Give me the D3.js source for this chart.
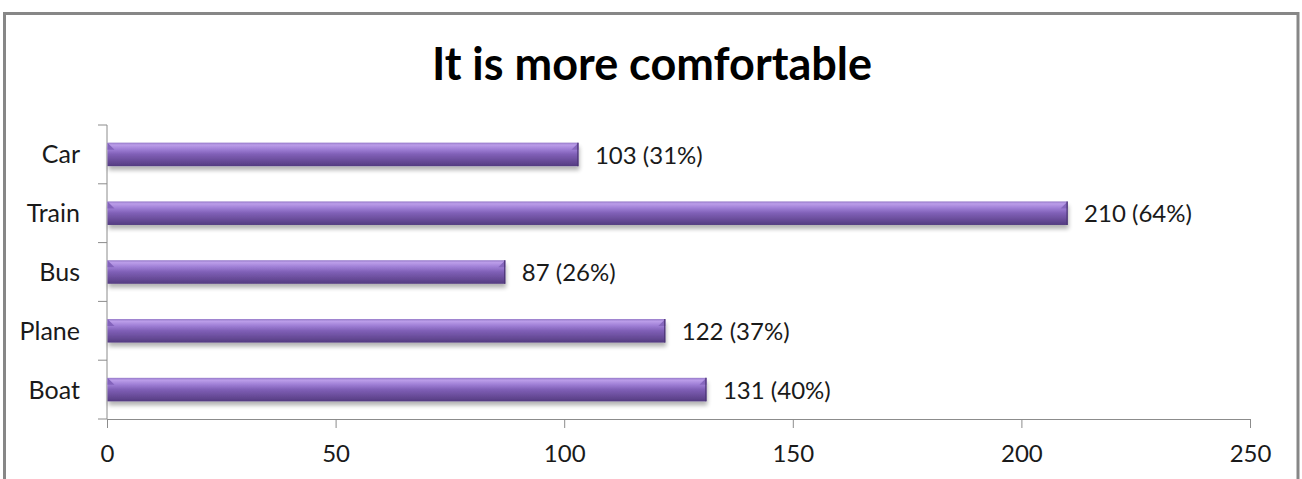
<!DOCTYPE html>
<html>
<head>
<meta charset="utf-8">
<script src="https://cdn.jsdelivr.net/npm/d3@7"></script>
<style>
  html, body { margin: 0; padding: 0; background: #fff; }
  svg { display: block; }
  text { font-family: Lato, "Open Sans", sans-serif; }
</style>
</head>
<body>
<div id="chart"></div>
<script>
// Responses per mode of transport
const categories = ["Car", "Train", "Bus", "Plane", "Boat"];
const counts = [103, 210, 87, 122, 131];
const percents = [31, 64, 26, 37, 40];
const xTicks = [0, 50, 100, 150, 200, 250];
const title = "It is more comfortable";

const W = 1302, H = 479;
const plot = { left: 107, right: 1250, top: 125, bottom: 419 };

const svg = d3.select("#chart").append("svg")
  .attr("width", W).attr("height", H);

const defs = svg.append("defs");

// Cylinder-like shading across the bar height
const grad = defs.append("linearGradient")
  .attr("id", "barFill").attr("x1", 0).attr("y1", 0).attr("x2", 0).attr("y2", 1);
[
  [0, "#9579c8"], [0.1, "#bb9de9"], [0.28, "#9f7fd6"],
  [0.5, "#7f5fb6"], [0.8, "#664a96"], [1, "#533b80"]
].forEach(([o, c]) => grad.append("stop").attr("offset", o).attr("stop-color", c));

const shadow = defs.append("filter").attr("id", "barShadow")
  .attr("x", "-5%").attr("y", "-40%").attr("width", "110%").attr("height", "200%");
shadow.append("feGaussianBlur").attr("in", "SourceAlpha").attr("stdDeviation", 2);
shadow.append("feOffset").attr("dx", 1).attr("dy", 4).attr("result", "off");
shadow.append("feComponentTransfer").append("feFuncA").attr("type", "linear").attr("slope", 0.3);
const merge = shadow.append("feMerge");
merge.append("feMergeNode");
merge.append("feMergeNode").attr("in", "SourceGraphic");

// Chart frame
svg.append("rect")
  .attr("x", 4.5).attr("y", 13.5).attr("width", 1293.5).attr("height", 500)
  .attr("fill", "none").attr("stroke", "#878787").attr("stroke-width", 3);

// Title
svg.append("text")
  .attr("x", 652).attr("y", 80)
  .attr("text-anchor", "middle")
  .attr("font-size", 45).attr("font-weight", 700).attr("fill", "#000")
  .text(title);

const x = d3.scaleLinear().domain([0, 250]).range([plot.left, plot.right]);
const y = d3.scaleBand().domain(categories).range([plot.top, plot.bottom])
  .paddingInner(0.6).paddingOuter(0.3);

// X axis
const xAxis = svg.append("g")
  .attr("transform", `translate(0,${plot.bottom})`)
  .call(d3.axisBottom(x).tickValues(xTicks).tickSizeInner(9).tickSizeOuter(0).tickPadding(17));
xAxis.select(".domain").attr("stroke", "#8c8c8c");
xAxis.selectAll(".tick line").attr("stroke", "#8c8c8c");
xAxis.selectAll(".tick text").attr("font-size", 24).attr("fill", "#1a1a1a")
  .style("font-family", "Lato, sans-serif");

// Y axis with category boundary ticks
const yAxis = svg.append("g").attr("transform", `translate(${plot.left},0)`);
yAxis.append("line")
  .attr("x1", 0).attr("x2", 0).attr("y1", plot.top).attr("y2", plot.bottom)
  .attr("stroke", "#8c8c8c");
const bounds = d3.range(categories.length + 1).map(i => plot.top + i * (plot.bottom - plot.top) / categories.length);
yAxis.selectAll("line.tk").data(bounds).join("line").attr("class", "tk")
  .attr("x1", -9).attr("x2", 0).attr("y1", d => d).attr("y2", d => d)
  .attr("stroke", "#8c8c8c");
yAxis.selectAll("text").data(categories).join("text")
  .attr("x", -27).attr("y", d => y(d) + y.bandwidth() / 2)
  .attr("dy", "0.36em").attr("text-anchor", "end")
  .attr("font-size", 25).attr("fill", "#1a1a1a")
  .text(d => d);

// Bars
const bars = svg.append("g");
const rows = categories.map((c, i) => ({ c, v: counts[i], p: percents[i] }));
const bevel = 7;
const bar = bars.selectAll("g").data(rows).join("g");
bar.append("rect")
  .attr("x", x(0) + 0.5).attr("y", d => y(d.c))
  .attr("width", d => x(d.v) - x(0)).attr("height", y.bandwidth())
  .attr("fill", "url(#barFill)")
  .attr("filter", "url(#barShadow)");
// bevelled end caps
bar.append("path")
  .attr("d", d => {
    const x0 = x(0) + 0.5, y0 = y(d.c);
    return `M${x0},${y0}L${x0 + bevel},${y0 + bevel}L${x0},${y0 + bevel}Z`;
  })
  .attr("fill", "#8363bc");
bar.append("path")
  .attr("d", d => {
    const x1 = x(d.v) + 0.5, y0 = y(d.c);
    return `M${x1},${y0}L${x1 - bevel},${y0 + bevel}L${x1},${y0 + bevel}Z`;
  })
  .attr("fill", "#8667bd");
bar.append("line")
  .attr("x1", d => x(d.v)).attr("x2", d => x(d.v))
  .attr("y1", d => y(d.c)).attr("y2", d => y(d.c) + y.bandwidth())
  .attr("stroke", "#4a3473").attr("stroke-width", 1.2);

// Value labels
bar.append("text")
  .attr("x", d => x(d.v) + 17)
  .attr("y", d => y(d.c) + y.bandwidth() / 2)
  .attr("dy", "0.38em")
  .attr("font-size", 24).attr("fill", "#1a1a1a")
  .text(d => `${d.v} (${d.p}%)`);
</script>
</body>
</html>
